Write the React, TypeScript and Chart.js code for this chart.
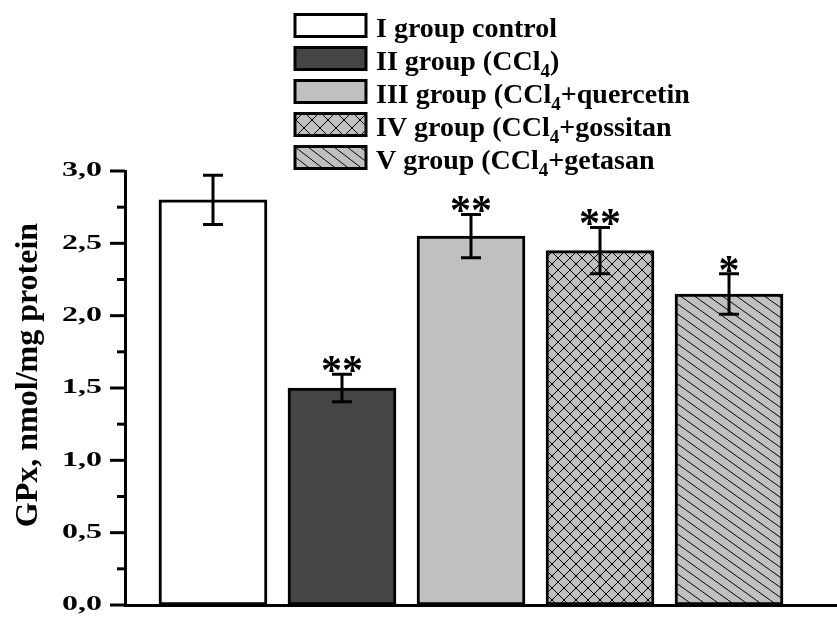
import React, { useEffect, useRef } from "react";
import { Chart, registerables } from "chart.js";

Chart.register(...registerables);

// ---------- data ----------
const groupPositions = [1, 2, 3, 4, 5];
const gpxValues = [2.8, 1.5, 2.55, 2.45, 2.15];
const gpxErrors = [0.17, 0.095, 0.15, 0.16, 0.14];
const significance = ["", "**", "**", "**", "*"];
const majorTickValues = [0, 0.5, 1, 1.5, 2, 2.5, 3];
const majorTickLabels = ["0,0", "0,5", "1,0", "1,5", "2,0", "2,5", "3,0"];
const minorTickValues = [0.25, 0.75, 1.25, 1.75, 2.25, 2.75];
const yAxisTitle = "GPx, nmol/mg protein";
// legend labels as [main, subscript, rest]
const legendMain = ["I group control", "II group (CCl", "III group (CCl", "IV group (CCl", "V group (CCl"];
const legendSub = ["", "4", "4", "4", "4"];
const legendRest = ["", ")", "+quercetin", "+gossitan", "+getasan"];

const FONT = '"Liberation Serif", "Times New Roman", serif';

function makeCross(size: number) {
  const c = document.createElement("canvas");
  c.width = size;
  c.height = size;
  const g = c.getContext("2d")!;
  g.fillStyle = "#c0c0c0";
  g.fillRect(0, 0, size, size);
  g.strokeStyle = "#000";
  g.lineWidth = 1;
  g.beginPath();
  g.moveTo(0, 0);
  g.lineTo(size, size);
  g.moveTo(0, size);
  g.lineTo(size, 0);
  g.stroke();
  return g.createPattern(c, "repeat")!;
}

function makeDiag(w: number, h: number) {
  const c = document.createElement("canvas");
  c.width = w;
  c.height = h;
  const g = c.getContext("2d")!;
  g.fillStyle = "#c0c0c0";
  g.fillRect(0, 0, w, h);
  g.strokeStyle = "#000";
  g.lineWidth = 1;
  g.beginPath();
  for (const dx of [-w, 0, w]) {
    g.moveTo(dx, 0);
    g.lineTo(dx + w, h);
  }
  g.stroke();
  return g.createPattern(c, "repeat")!;
}

export default function App() {
  const ref = useRef<HTMLCanvasElement>(null);

  useEffect(() => {
    document.body.style.margin = "0";
    const canvas = ref.current!;
    const barCross = makeCross(12);
    const barDiag = makeDiag(14, 10);
    const legCross = makeCross(16);
    const legDiag = makeDiag(13, 10);
    const barFills: any[] = ["#ffffff", "#454545", "#c0c0c0", barCross, barDiag];
    const legFills: any[] = ["#ffffff", "#454545", "#c0c0c0", legCross, legDiag];

    const overlay = {
      id: "overlay",
      afterDraw(chart: any) {
        const ctx = chart.ctx;
        const xs = chart.scales.x;
        const ys = chart.scales.y;
        const area = chart.chartArea;
        ctx.save();
        ctx.strokeStyle = "#000";
        ctx.fillStyle = "#000";
        ctx.lineCap = "butt";

        // error bars
        ctx.lineWidth = 3;
        gpxValues.forEach((v, i) => {
          const x = xs.getPixelForValue(groupPositions[i]);
          const yt = ys.getPixelForValue(v + gpxErrors[i]);
          const yb = ys.getPixelForValue(v - gpxErrors[i]);
          ctx.beginPath();
          ctx.moveTo(x, yt);
          ctx.lineTo(x, yb);
          ctx.moveTo(x - 10, yt);
          ctx.lineTo(x + 10, yt);
          ctx.moveTo(x - 10, yb);
          ctx.lineTo(x + 10, yb);
          ctx.stroke();
          if (significance[i]) {
            ctx.font = `bold 42px ${FONT}`;
            ctx.textAlign = "center";
            ctx.textBaseline = "alphabetic";
            ctx.fillText(significance[i], x, yt + 10);
          }
        });

        // y ticks
        ctx.lineWidth = 3;
        majorTickValues.forEach((v, i) => {
          const y = ys.getPixelForValue(v);
          ctx.beginPath();
          ctx.moveTo(area.left - 15, y);
          ctx.lineTo(area.left, y);
          ctx.stroke();
          ctx.save();
          ctx.font = `bold 20px ${FONT}`;
          ctx.textAlign = "right";
          ctx.textBaseline = "middle";
          ctx.translate(area.left - 23, y);
          ctx.scale(1.6, 1);
          ctx.fillText(majorTickLabels[i], 0, 0);
          ctx.restore();
        });
        minorTickValues.forEach((v) => {
          const y = ys.getPixelForValue(v);
          ctx.beginPath();
          ctx.moveTo(area.left - 8, y);
          ctx.lineTo(area.left, y);
          ctx.stroke();
        });

        // y title
        ctx.save();
        ctx.font = `bold 32px ${FONT}`;
        ctx.textAlign = "center";
        ctx.textBaseline = "middle";
        ctx.translate(29, 375);
        ctx.rotate(-Math.PI / 2);
        ctx.fillText(yAxisTitle, 0, 0);
        ctx.restore();

        // legend
        const bx = 295;
        const bw = 71;
        const bh = 22;
        legendMain.forEach((t, i) => {
          const cy = 25.5 + i * 33;
          const top = cy - bh / 2;
          ctx.fillStyle = legFills[i];
          ctx.fillRect(bx, top, bw, bh);
          ctx.lineWidth = 3;
          ctx.strokeStyle = "#000";
          ctx.strokeRect(bx, top, bw, bh);
          ctx.fillStyle = "#000";
          ctx.textAlign = "left";
          ctx.textBaseline = "alphabetic";
          const base = top + bh + 0.5;
          let x = 376;
          ctx.font = `bold 28px ${FONT}`;
          ctx.fillText(t, x, base);
          x += ctx.measureText(t).width;
          if (legendSub[i]) {
            ctx.font = `bold 19px ${FONT}`;
            ctx.fillText(legendSub[i], x, base + 7);
            x += ctx.measureText(legendSub[i]).width;
          }
          if (legendRest[i]) {
            ctx.font = `bold 28px ${FONT}`;
            ctx.fillText(legendRest[i], x, base);
          }
        });
        ctx.restore();
      },
    };

    const chart = new Chart(canvas, {
      type: "bar",
      data: {
        datasets: [
          {
            data: groupPositions.map((x, i) => ({ x, y: gpxValues[i] })),
            backgroundColor: barFills,
            borderColor: "#000",
            borderWidth: 3,
            borderSkipped: false,
            barThickness: 108,
          },
        ],
      },
      options: {
        responsive: false,
        animation: false,
        devicePixelRatio: 1,
        layout: { padding: { top: 171, right: 0, left: 0, bottom: 0 } },
        plugins: { legend: { display: false }, tooltip: { enabled: false } },
        scales: {
          x: {
            type: "linear",
            offset: false,
            min: 0.318,
            max: 5.837,
            z: 1,
            ticks: { display: false },
            grid: { display: false, drawTicks: false, offset: false },
            border: { display: true, color: "#000", width: 3 },
            afterFit: (s: any) => {
              s.height = 12;
            },
          },
          y: {
            min: 0,
            max: 3,
            z: 1,
            ticks: { display: false },
            grid: { display: false, drawTicks: false },
            border: { display: true, color: "#000", width: 3 },
            afterFit: (s: any) => {
              s.width = 125;
            },
          },
        },
      },
      plugins: [overlay],
    } as any);
    return () => chart.destroy();
  }, []);

  return (
    <div style={{ width: 837, height: 617 }}>
      <canvas ref={ref} width={837} height={617} style={{ display: "block" }} />
    </div>
  );
}
